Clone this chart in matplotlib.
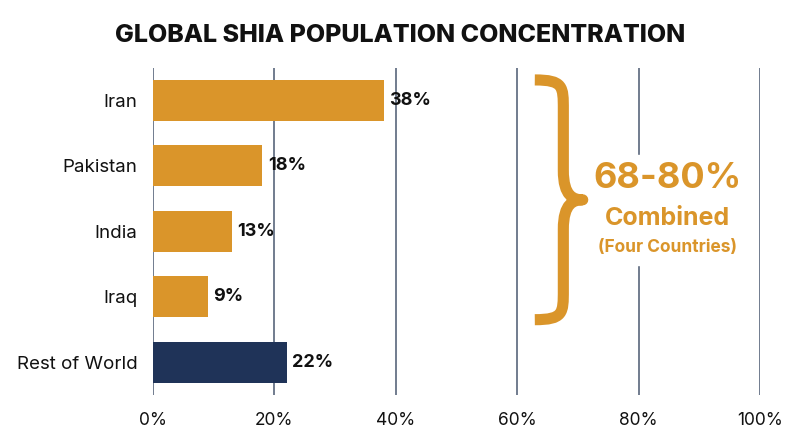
import numpy as np
import matplotlib
matplotlib.use("Agg")
import matplotlib.pyplot as plt
from matplotlib.path import Path
from matplotlib.patches import PathPatch

countries = ["Iran", "Pakistan", "India", "Iraq", "Rest of World"]
shares = [38, 18, 13, 9, 22]
bar_colors = ["#DA952A", "#DA952A", "#DA952A", "#DA952A", "#1F3358"]
xticks = [0, 20, 40, 60, 80, 100]
xtick_labels = ["0%", "20%", "40%", "60%", "80%", "100%"]
combined_text = "68-80%"

ORANGE = "#DA952A"
GRID = "#4A5870"

plt.rcParams["font.family"] = ["Inter", "DejaVu Sans"]

fig = plt.figure(figsize=(8, 4.47), dpi=100)
ax = fig.add_axes([153 / 800, 1 - 395 / 447, (760 - 153) / 800, (395 - 67.5) / 447])

y = np.arange(len(countries))
ax.barh(y, shares, height=0.63, color=bar_colors, zorder=3)
for yi, v in zip(y, shares):
    ax.text(v + 0.9, yi, f"{v}%", va="center", ha="left", fontsize=13,
            fontweight="bold", color="#111111", zorder=4)

ax.set_xlim(0, 100)
ax.set_ylim(len(countries) - 0.5, -0.5)
ax.set_yticks(y)
ax.set_yticklabels(countries, fontsize=13.5, color="#111111")
ax.set_xticks(xticks)
ax.set_xticklabels(xtick_labels, fontsize=12.5, color="#111111")
ax.tick_params(axis="both", length=0)
ax.tick_params(axis="y", pad=11)
ax.tick_params(axis="x", pad=12)
for s in ax.spines.values():
    s.set_visible(False)
ax.grid(axis="x", color=GRID, linewidth=1.1, zorder=0)
ax.set_axisbelow(True)

# curly brace spanning the four countries
x0, x1, xt = 62.9, 67.6, 70.8
ytop, ymid, ybot = -0.31, 1.52, 3.35
verts = [
    (x0, ytop),
    (x1, ytop), (x1, ytop + 0.1), (x1, ytop + 0.45),
    (x1, ymid - 0.45),
    (x1, ymid - 0.05), (xt - 1.5, ymid), (xt, ymid),
    (xt - 1.5, ymid), (x1, ymid + 0.05), (x1, ymid + 0.45),
    (x1, ybot - 0.45),
    (x1, ybot - 0.1), (x1, ybot), (x0, ybot),
]
codes = [Path.MOVETO,
         Path.CURVE4, Path.CURVE4, Path.CURVE4,
         Path.LINETO,
         Path.CURVE4, Path.CURVE4, Path.CURVE4,
         Path.CURVE4, Path.CURVE4, Path.CURVE4,
         Path.LINETO,
         Path.CURVE4, Path.CURVE4, Path.CURVE4]
ax.add_patch(PathPatch(Path(verts, codes), facecolor="none", edgecolor=ORANGE,
                       linewidth=8, capstyle="butt", joinstyle="round", zorder=4))

# white panel behind the annotation text
ax.fill_between([75.5, 94], 0.84, 2.52, color="white", zorder=1)
ax.text(84.8, 1.20, combined_text, ha="center", va="center", fontsize=26,
        fontweight="bold", color=ORANGE, zorder=5)
ax.text(84.8, 1.81, "Combined", ha="center", va="center", fontsize=18,
        fontweight="bold", color=ORANGE, zorder=5)
ax.text(84.8, 2.25, "(Four Countries)", ha="center", va="center", fontsize=12.5,
        fontweight="bold", color=ORANGE, zorder=5)

fig.text(0.5, 1 - 35 / 447, "GLOBAL SHIA POPULATION CONCENTRATION", ha="center",
         va="center", fontsize=18, fontweight="heavy", color="#111111")

fig.savefig("out.png", dpi=100, facecolor="white")
